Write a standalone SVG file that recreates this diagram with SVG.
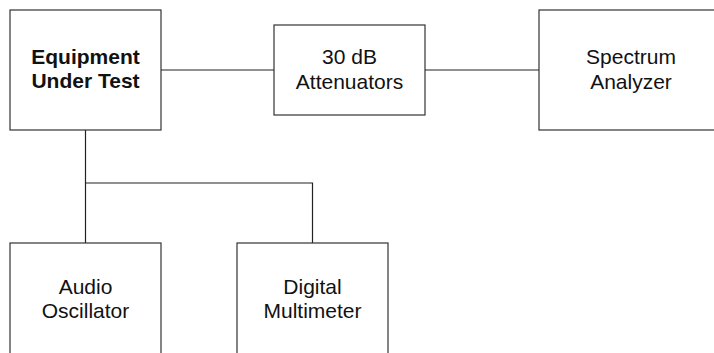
<svg xmlns="http://www.w3.org/2000/svg" width="714" height="353" viewBox="0 0 714 353">
<style>
.box{fill:#fff;stroke:#333;stroke-width:1.2}
.ln{fill:none;stroke:#222;stroke-width:1.2}
.t{font-family:"Liberation Sans",Arial,sans-serif;font-size:21px;fill:#111;text-anchor:middle}
.b{font-weight:bold}
</style>
<rect width="714" height="353" fill="#fff"/>
<g id="connectors">
<line class="ln" x1="161" y1="70" x2="274" y2="70"/>
<line class="ln" x1="425" y1="70" x2="539" y2="70"/>
<polyline class="ln" points="85.5,130 85.5,243"/>
<polyline class="ln" points="85.5,183 312.5,183 312.5,243"/>
</g>
<g id="eut">
<rect class="box" x="10" y="10" width="151" height="120"/>
<text class="t b" x="85.5" y="64">Equipment</text>
<text class="t b" x="85.5" y="88">Under Test</text>
</g>
<g id="attenuators">
<rect class="box" x="274" y="25" width="151" height="90"/>
<text class="t" x="349.5" y="64">30 dB</text>
<text class="t" x="349.5" y="89">Attenuators</text>
</g>
<g id="analyzer">
<rect class="box" x="539" y="10" width="185" height="120"/>
<text class="t" x="631" y="64">Spectrum</text>
<text class="t" x="631" y="89">Analyzer</text>
</g>
<g id="oscillator">
<rect class="box" x="10" y="243" width="151" height="130"/>
<text class="t" x="85.5" y="294">Audio</text>
<text class="t" x="85.5" y="318">Oscillator</text>
</g>
<g id="multimeter">
<rect class="box" x="237" y="243" width="151" height="130"/>
<text class="t" x="312.5" y="294">Digital</text>
<text class="t" x="312.5" y="318">Multimeter</text>
</g>
</svg>
